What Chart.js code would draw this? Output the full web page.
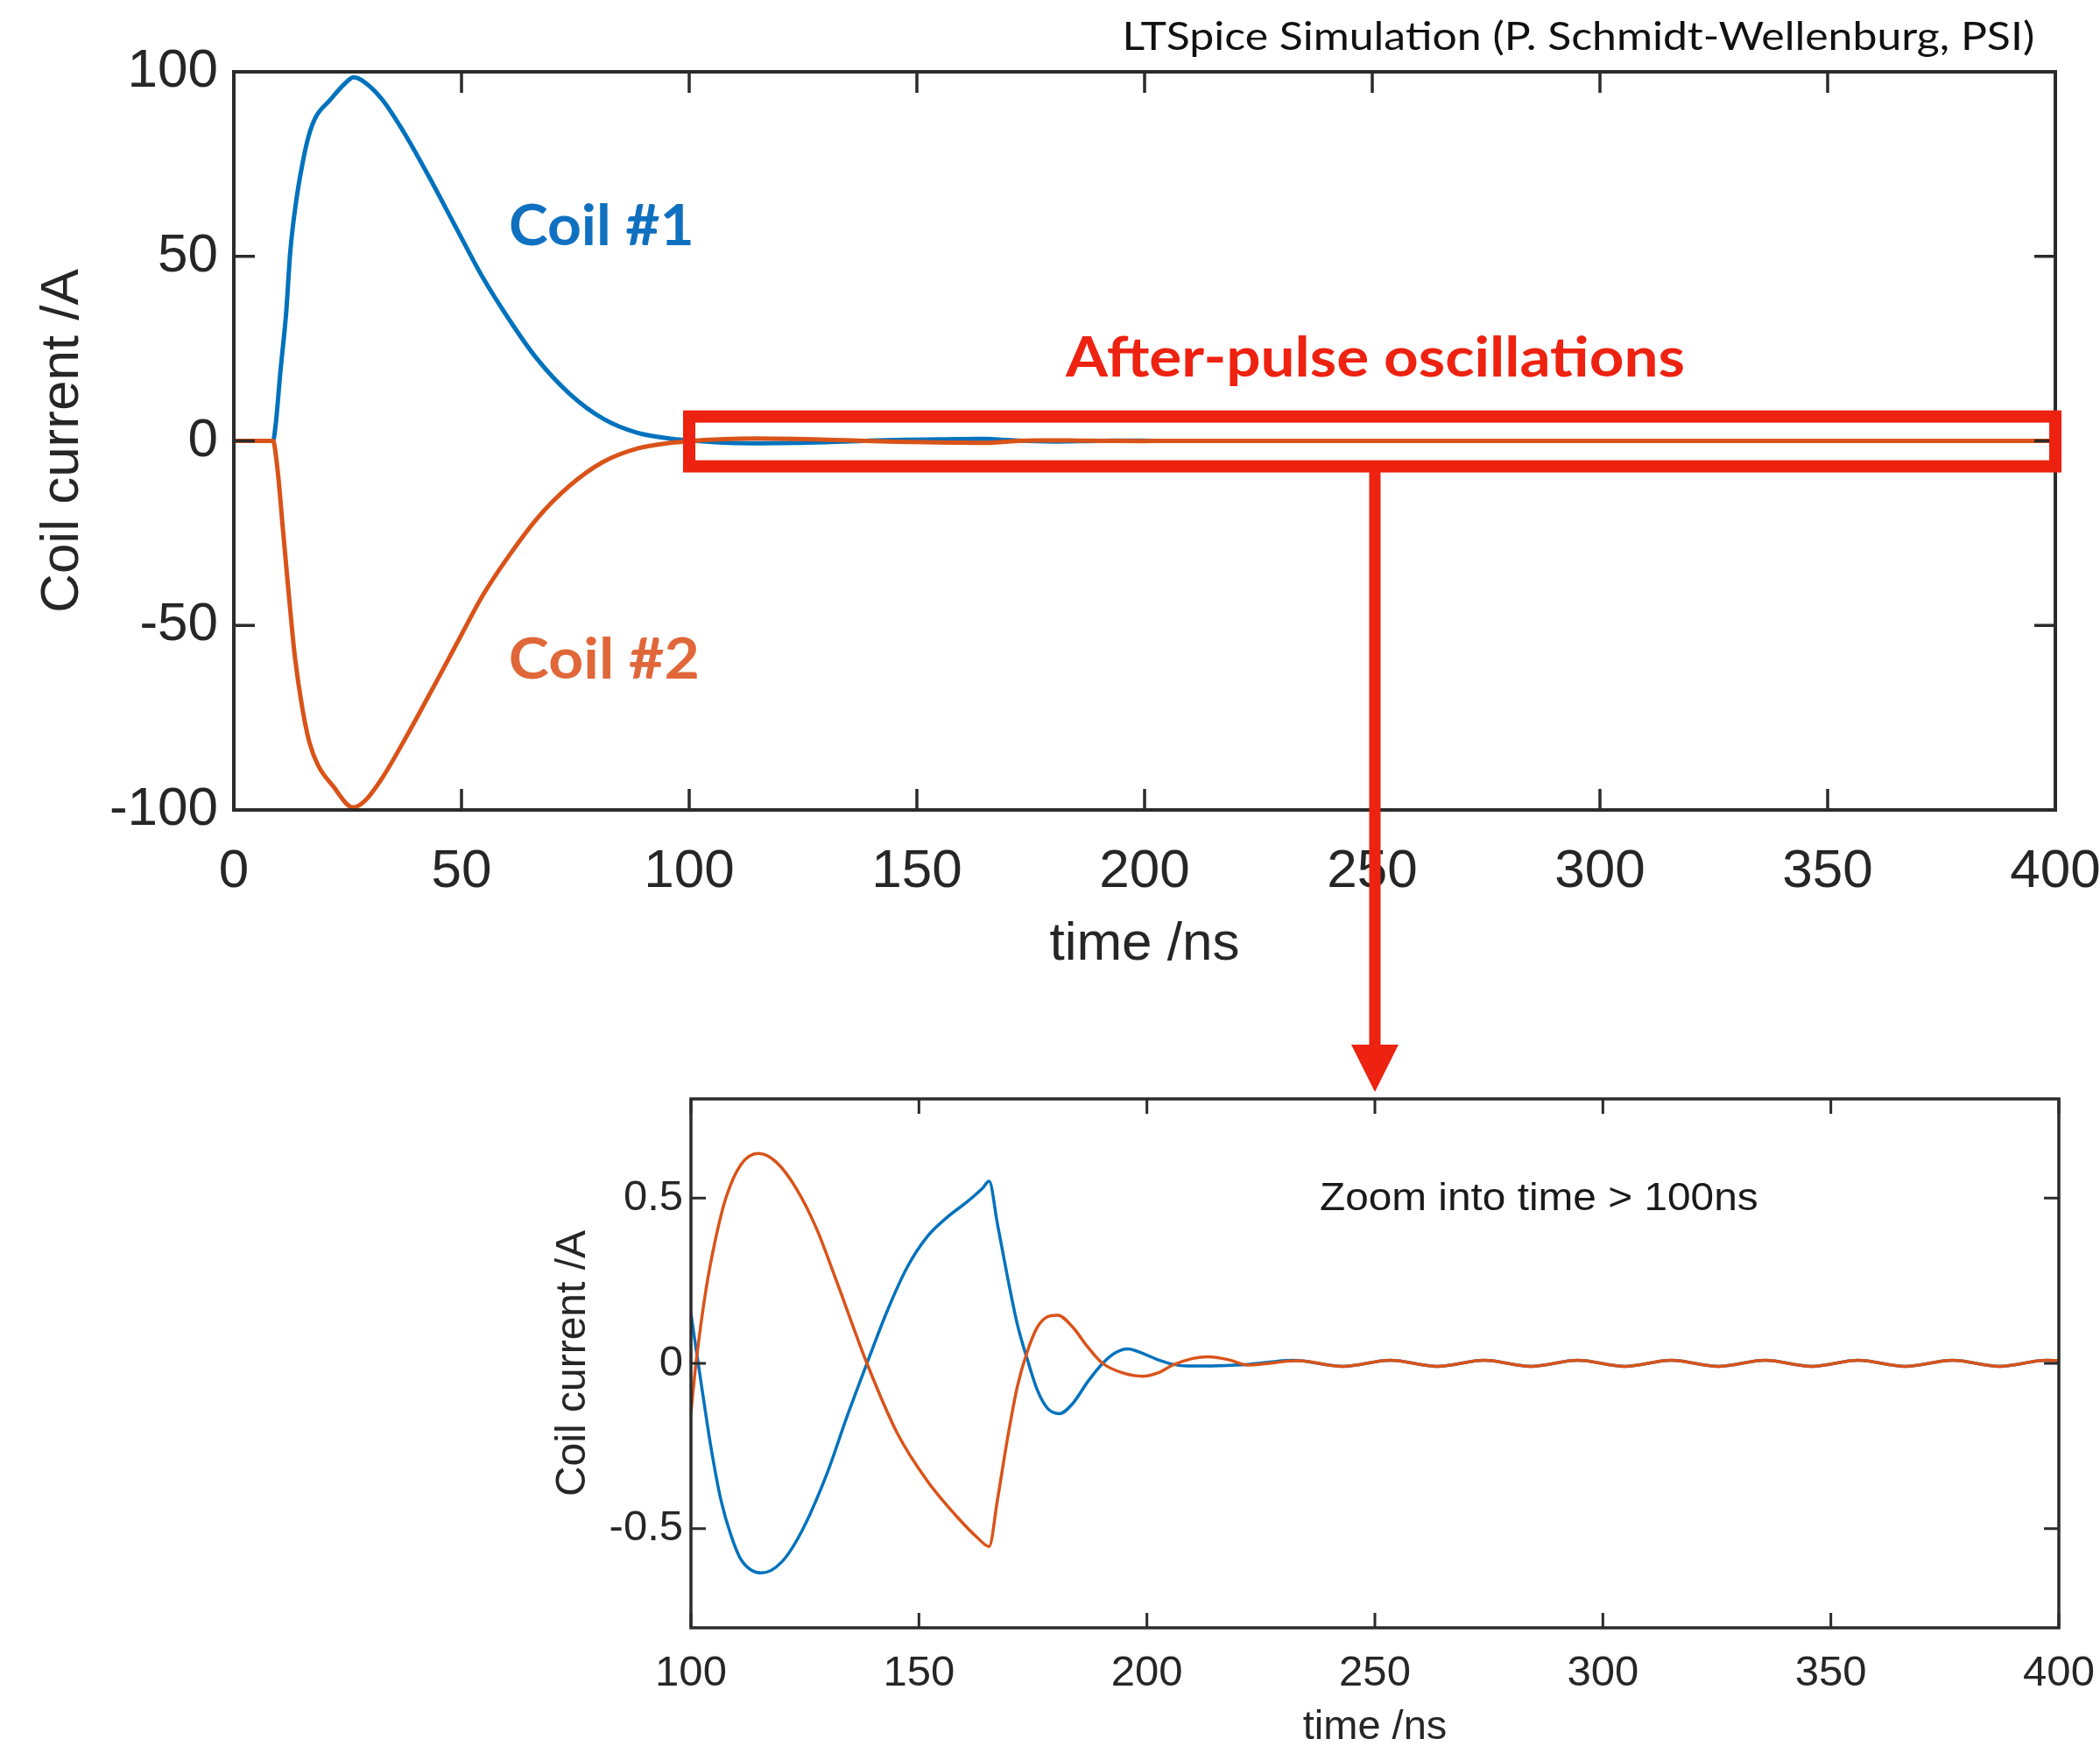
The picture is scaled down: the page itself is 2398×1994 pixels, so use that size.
<!DOCTYPE html>
<html>
<head>
<meta charset="utf-8">
<script src="https://cdn.jsdelivr.net/npm/chart.js@4.4.1/dist/chart.umd.min.js"></script>
<style>
  html, body { margin: 0; padding: 0; background: #ffffff; overflow: hidden; width: 2398px; height: 1994px; }
  canvas { position: absolute; left: 0; top: 0; }
</style>
</head>
<body>
<canvas id="mainChart" width="2398" height="2100"></canvas>
<canvas id="zoomChart" width="2398" height="2100"></canvas>
<script>
// ---------------- DATA ----------------
// Main pulse, 0..100 ns
const coil1PulseTime = [0, 8.6, 9.2, 10.2, 11.5, 12.4, 13.7, 15.0, 16.3, 17.9, 21.1, 24.3, 26.3, 28.8, 32.7, 37.1, 42.8, 48.7, 54.6, 60.5, 66.4, 73.7, 81.1, 88.5, 95.8];
const coil1Pulse     = [0, 0, 4.5, 18.4, 34.8, 51.3, 65.0, 74.6, 82.0, 87.5, 92.3, 96.7, 98.5, 97.1, 92.3, 84.1, 71.7, 58.0, 44.4, 32.8, 22.5, 12.8, 6.0, 2.2, 0.6];
const coil2PulseTime = [0, 8.6, 9.6, 10.8, 12.1, 13.4, 15.0, 16.6, 18.5, 21.7, 26.2, 28.8, 32.6, 38.4, 44.8, 50.0, 54.6, 60.5, 66.4, 73.7, 81.1, 88.5, 95.8];
const coil2Pulse     = [0, 0, -7.8, -24.2, -42.0, -58.4, -72.1, -81.7, -87.9, -93.4, -99.3, -97.5, -91.3, -79.0, -64.5, -52.5, -42.0, -31.0, -21.3, -12.2, -5.7, -2.1, -0.55];

// After-pulse oscillations, 100..400 ns
const coil1AfterTime = [100, 102.2, 104.4, 106.6, 108.8, 111.0, 115.5, 119.9, 124.3, 129.8, 134.2, 138.6, 143.0, 147.4, 151.8, 156.2, 160.6, 163.9, 165.4, 167.2, 169.4, 171.6, 173.8, 176.0, 178.2, 180.8, 183.7, 187.0, 190.3, 193.2, 195.8, 199.1, 202.4, 205.7, 209.0, 215.6, 222.2, 232.1, 243.0, 253.4, 263.7, 274.0, 284.2, 294.5, 304.8, 315.0, 325.3, 335.6, 345.8, 356.0, 366.3, 376.7, 387.0, 397.3, 400];
const coil1After     = [0.150, -0.056, -0.255, -0.415, -0.521, -0.594, -0.634, -0.601, -0.508, -0.335, -0.162, 0.000, 0.157, 0.290, 0.383, 0.442, 0.489, 0.529, 0.551, 0.423, 0.263, 0.117, 0.011, -0.082, -0.136, -0.152, -0.122, -0.056, 0.000, 0.033, 0.044, 0.030, 0.011, -0.003, -0.008, -0.007, -0.003, 0.009, -0.009, 0.009, -0.009, 0.009, -0.009, 0.009, -0.009, 0.009, -0.009, 0.009, -0.009, 0.009, -0.009, 0.009, -0.009, 0.009, 0.008];
const coil2AfterTime = [100, 101.1, 103.3, 105.5, 107.7, 111.0, 114.8, 118.7, 123.1, 127.5, 131.9, 138.6, 145.2, 151.8, 158.4, 162.8, 165.4, 167.2, 169.4, 171.6, 173.8, 176.0, 178.2, 180.4, 183.7, 187.0, 190.3, 194.7, 199.1, 202.4, 205.7, 210.1, 213.5, 217.9, 222.2, 233.0, 243.0, 253.4, 263.7, 274.0, 284.2, 294.5, 304.8, 315.0, 325.3, 335.6, 345.8, 356.0, 366.3, 376.7, 387.0, 397.3, 400];
const coil2After     = [-0.149, 0.000, 0.223, 0.383, 0.502, 0.602, 0.635, 0.609, 0.529, 0.409, 0.250, 0.000, -0.210, -0.355, -0.465, -0.527, -0.554, -0.415, -0.229, -0.069, 0.037, 0.110, 0.141, 0.146, 0.110, 0.050, 0.000, -0.029, -0.039, -0.029, -0.005, 0.015, 0.020, 0.011, -0.005, 0.008, -0.009, 0.009, -0.009, 0.009, -0.009, 0.009, -0.009, 0.009, -0.009, 0.009, -0.009, 0.009, -0.009, 0.009, -0.009, 0.009, 0.008];

// Tick labels
const mainXTicks = [0, 50, 100, 150, 200, 250, 300, 350, 400];
const mainYTicks = [-100, -50, 0, 50, 100];
const zoomXTicks = [100, 150, 200, 250, 300, 350, 400];
const zoomYTicks = [-0.5, 0, 0.5];

// Texts
const seriesNames = ['Coil #1', 'Coil #2'];
const creditText = 'LTSpice Simulation (P. Schmidt-Wellenburg, PSI)';
const calloutText = 'After-pulse oscillations';
const zoomNote = 'Zoom into time > 100ns';
const yTitle = 'Coil current /A';
const xTitle = 'time /ns';
// Highlighted region in the main chart (data units) and arrow target
const boxTimes = [100, 400];
const boxCurrents = [6.6, -6.9];
const arrowTime = 250;

// ---------------- STYLE ----------------
const BLUE = '#0072BD', ORANGE = '#D95319', RED = '#EE2211', AXIS = '#2b2b2b';
Chart.defaults.font.family = "'Liberation Sans', Arial, Helvetica, sans-serif";
Chart.defaults.color = '#262626';

function pts(ts, vs) { return ts.map((t, i) => ({ x: t, y: vs[i] })); }

function fitText(ctx, text, inkLeft, baseline, inkWidth, font, color) {
  ctx.save();
  ctx.font = font;
  ctx.fillStyle = color;
  ctx.textAlign = 'left';
  ctx.textBaseline = 'alphabetic';
  const m = ctx.measureText(text);
  const ink = m.actualBoundingBoxLeft + m.actualBoundingBoxRight;
  ctx.translate(inkLeft, baseline);
  ctx.scale(inkWidth / ink, 1);
  ctx.fillText(text, m.actualBoundingBoxLeft, 0);
  ctx.restore();
}

const framePlugin = {
  id: 'frame',
  afterDatasetsDraw(chart, args, o) {
    const { ctx, chartArea: a, scales: { x, y } } = chart;
    ctx.save();
    ctx.strokeStyle = o.color;
    ctx.lineWidth = o.tickWidth;
    ctx.beginPath();
    x.ticks.forEach(t => {
      const px = x.getPixelForValue(t.value);
      ctx.moveTo(px, a.bottom); ctx.lineTo(px, a.bottom - o.tickLen);
      ctx.moveTo(px, a.top); ctx.lineTo(px, a.top + o.tickLen);
    });
    y.ticks.forEach(t => {
      const py = y.getPixelForValue(t.value);
      ctx.moveTo(a.left, py); ctx.lineTo(a.left + o.tickLen, py);
      ctx.moveTo(a.right, py); ctx.lineTo(a.right - o.tickLen, py);
    });
    ctx.stroke();
    ctx.lineWidth = o.lineWidth;
    ctx.lineJoin = 'miter';
    ctx.strokeRect(a.left, a.top, a.right - a.left, a.bottom - a.top);
    ctx.restore();
  }
};

function scaleCfg(opts) {
  return {
    type: 'linear',
    min: opts.min, max: opts.max,
    grid: { display: false, drawTicks: false },
    border: { display: false },
    afterBuildTicks: s => { s.ticks = opts.ticks.map(v => ({ value: v })); },
    afterFit: s => {
      if (opts.width !== undefined) s.width = opts.width;
      if (opts.height !== undefined) s.height = opts.height;
      s.paddingLeft = 0; s.paddingRight = 0; s.paddingTop = 0; s.paddingBottom = 0;
    },
    ticks: {
      autoSkip: false, maxRotation: 0, minRotation: 0,
      padding: opts.pad,
      color: '#262626',
      font: { size: opts.fontSize },
      callback: v => String(v)
    },
    title: {
      display: true, text: opts.title, color: '#262626',
      font: { size: opts.titleSize },
      padding: { top: 0, bottom: 0 }
    }
  };
}

function lineDs(label, data, color, width, order) {
  return {
    label, data, order, borderColor: color, backgroundColor: color,
    borderWidth: width, pointRadius: 0, pointHoverRadius: 0,
    cubicInterpolationMode: 'monotone', fill: false,
    borderJoinStyle: 'round', borderCapStyle: 'round'
  };
}

// ---------------- MAIN CHART ----------------
const mainAnnotations = {
  id: 'mainAnnotations',
  afterDraw(chart) {
    const { ctx, scales: { x, y } } = chart;
    fitText(ctx, creditText, 1286, 57, 1035, "400 45px Lato, 'Open Sans', sans-serif", '#111111');
    fitText(ctx, seriesNames[0], 583, 280, 206, "700 65px Lato, 'Open Sans', sans-serif", '#1070C0');
    fitText(ctx, seriesNames[1], 583, 775, 213, "700 65px Lato, 'Open Sans', sans-serif", '#E0673A');
    fitText(ctx, calloutText, 1216, 430, 706, "700 63px Lato, 'Open Sans', sans-serif", RED);
    const l = x.getPixelForValue(boxTimes[0]), r = x.getPixelForValue(boxTimes[1]);
    const t = y.getPixelForValue(boxCurrents[0]), b = y.getPixelForValue(boxCurrents[1]);
    ctx.save();
    ctx.strokeStyle = RED;
    ctx.lineWidth = 14;
    ctx.lineJoin = 'miter';
    ctx.strokeRect(l, t, r - l, b - t);
    ctx.restore();
  }
};

const mainChart = new Chart(document.getElementById('mainChart'), {
  type: 'line',
  data: {
    datasets: [
      lineDs(seriesNames[0], pts(coil1PulseTime.concat(coil1AfterTime), coil1Pulse.concat(coil1After)), BLUE, 5, 1),
      lineDs(seriesNames[1], pts(coil2PulseTime.concat(coil2AfterTime), coil2Pulse.concat(coil2After)), ORANGE, 5, 0)
    ]
  },
  options: {
    responsive: false,
    animation: false,
    events: [],
    layout: { padding: { left: 35, top: 82, right: 51, bottom: 984 } },
    plugins: {
      legend: { display: false },
      tooltip: { enabled: false },
      frame: { color: AXIS, lineWidth: 4, tickWidth: 3.5, tickLen: 24 }
    },
    scales: {
      x: scaleCfg({ min: 0, max: 400, ticks: mainXTicks, height: 191, pad: 34, fontSize: 62, title: xTitle, titleSize: 62 }),
      y: scaleCfg({ min: -100, max: 100, ticks: mainYTicks, width: 232, pad: 18, fontSize: 62, title: yTitle, titleSize: 62 })
    }
  },
  plugins: [framePlugin, mainAnnotations]
});

// ---------------- ZOOM CHART ----------------
const zoomAnnotations = {
  id: 'zoomAnnotations',
  afterDraw(chart) {
    const { ctx, chartArea: a, scales: { x } } = chart;
    fitText(ctx, zoomNote, 1508, 1382, 498, "400 45px 'Liberation Sans', Arial, sans-serif", '#1a1a1a');
    const ax = x.getPixelForValue(arrowTime);
    const y0 = mainChart.scales.y.getPixelForValue(boxCurrents[1]);
    const tip = a.top - 8;
    const headLen = 54, headHalf = 27;
    ctx.save();
    ctx.strokeStyle = RED;
    ctx.fillStyle = RED;
    ctx.lineWidth = 13;
    ctx.beginPath();
    ctx.moveTo(ax, y0);
    ctx.lineTo(ax, tip - headLen + 2);
    ctx.stroke();
    ctx.beginPath();
    ctx.moveTo(ax - headHalf, tip - headLen);
    ctx.lineTo(ax + headHalf, tip - headLen);
    ctx.lineTo(ax, tip);
    ctx.closePath();
    ctx.fill();
    ctx.restore();
  }
};

const zoomChart = new Chart(document.getElementById('zoomChart'), {
  type: 'line',
  data: {
    datasets: [
      lineDs(seriesNames[0], pts(coil1AfterTime, coil1After), BLUE, 3.5, 1),
      lineDs(seriesNames[1], pts(coil2AfterTime, coil2After), ORANGE, 3.5, 0)
    ]
  },
  options: {
    responsive: false,
    animation: false,
    events: [],
    layout: { padding: { left: 626, top: 1255, right: 47, bottom: 99 } },
    plugins: {
      legend: { display: false },
      tooltip: { enabled: false },
      frame: { color: AXIS, lineWidth: 3.5, tickWidth: 3, tickLen: 17 }
    },
    scales: {
      x: scaleCfg({ min: 100, max: 400, ticks: zoomXTicks, height: 142, pad: 23, fontSize: 49, title: xTitle, titleSize: 47 }),
      y: scaleCfg({ min: -0.8, max: 0.8, ticks: zoomYTicks, width: 163, pad: 9, fontSize: 49, title: yTitle, titleSize: 48 })
    }
  },
  plugins: [framePlugin, zoomAnnotations]
});
</script>
</body>
</html>
